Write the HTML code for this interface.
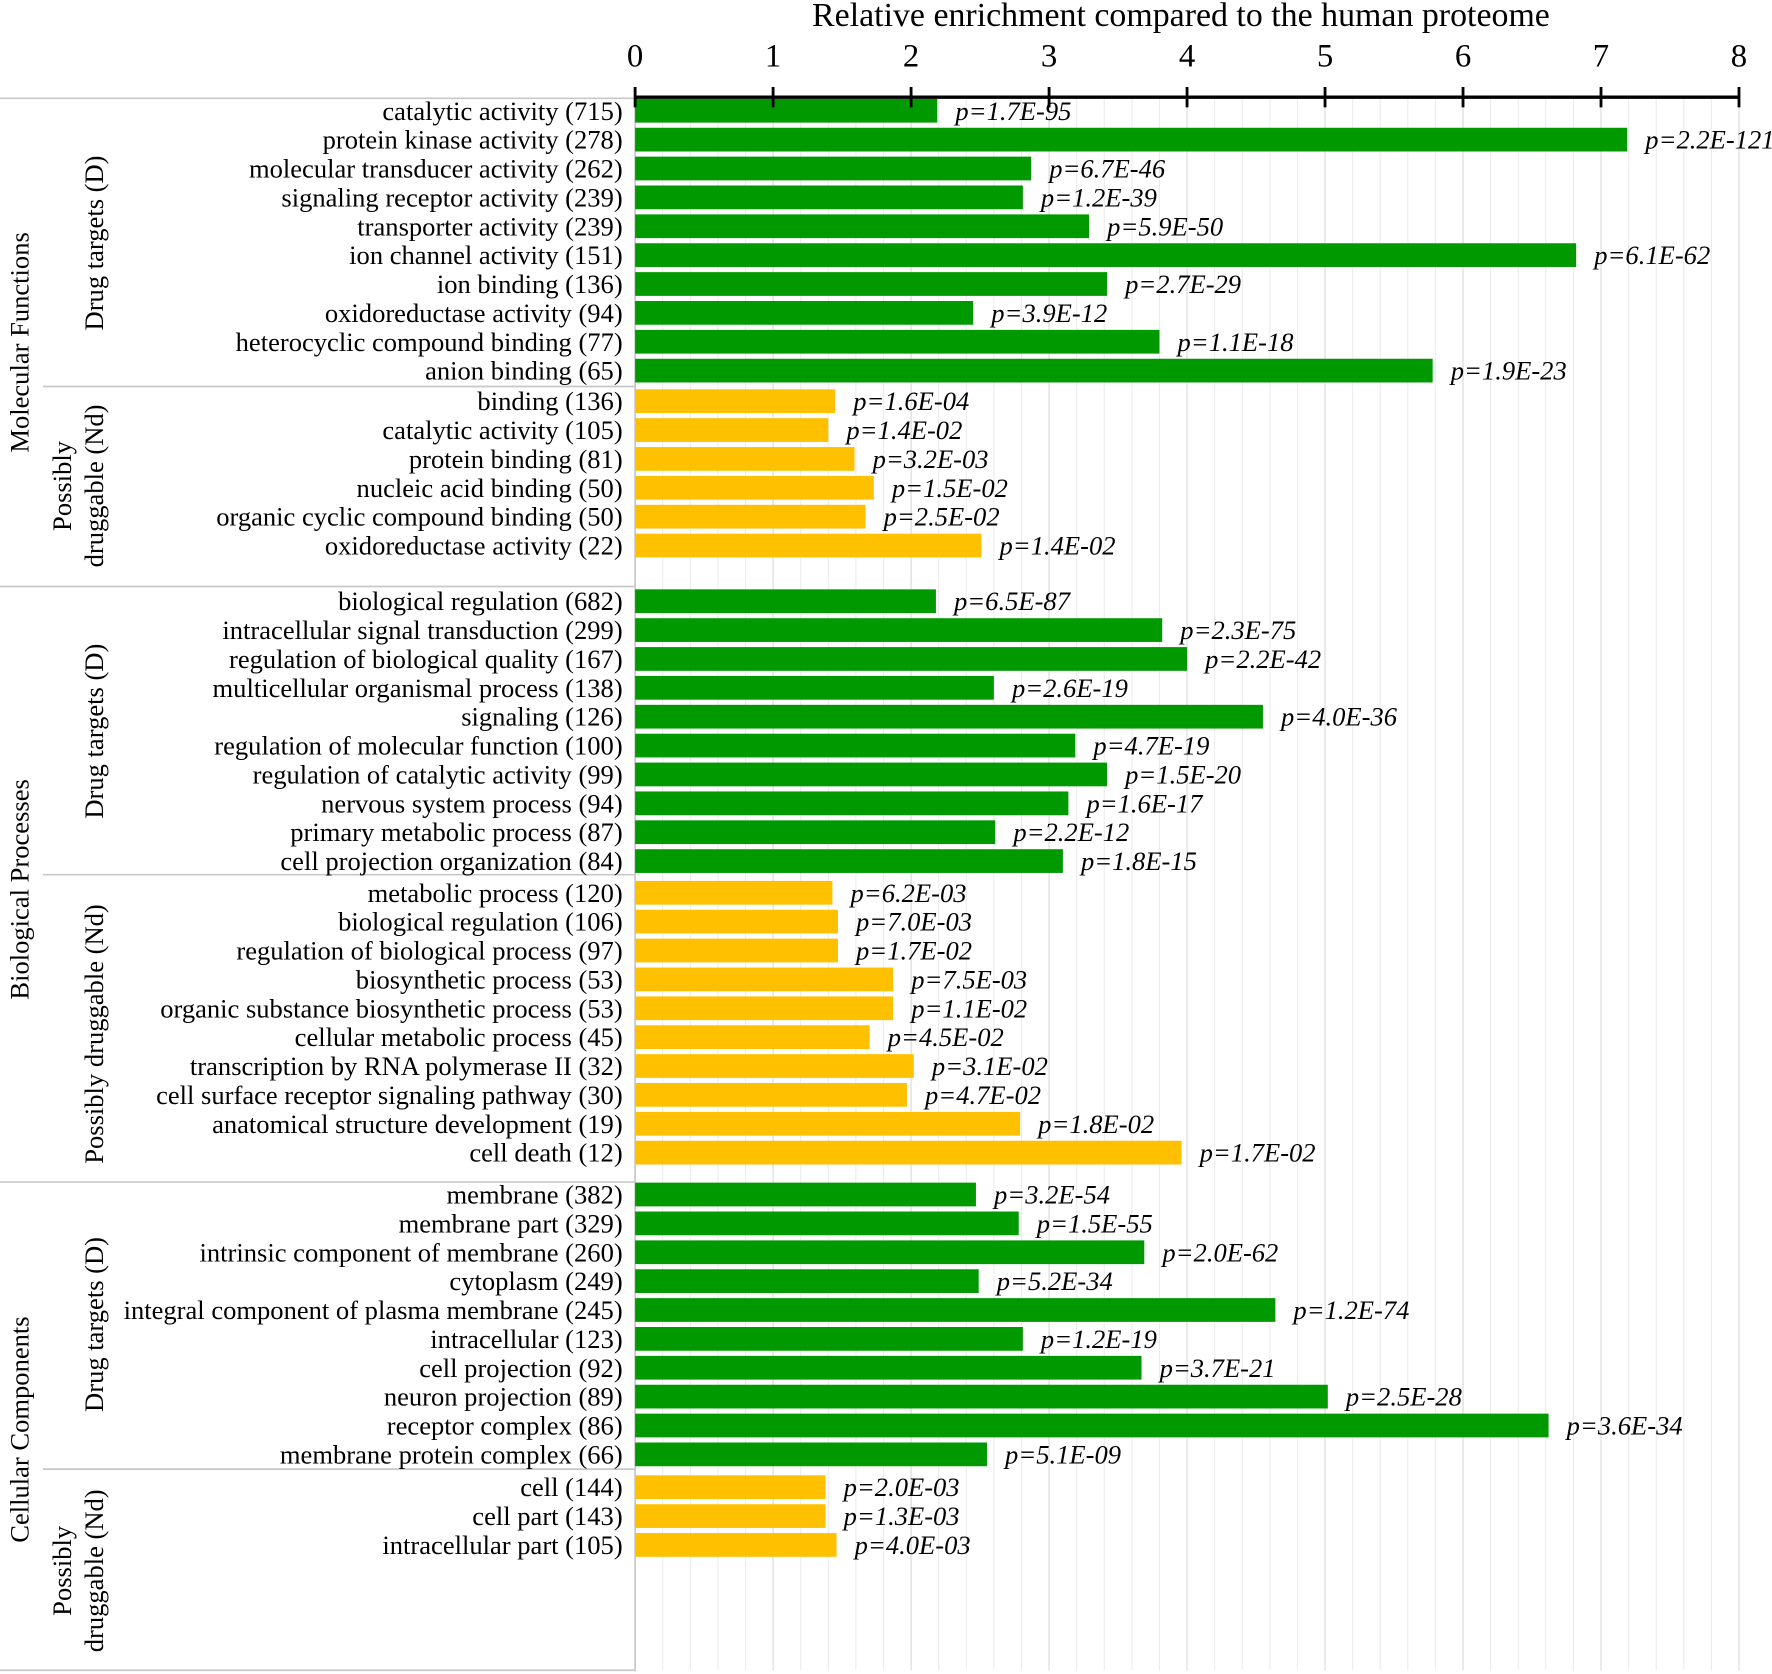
<!DOCTYPE html>
<html><head><meta charset="utf-8"><style>
html,body{margin:0;padding:0;background:#fff}
svg{display:block;font-family:"Liberation Serif",serif}
</style></head><body>
<svg id="chart" width="1772" height="1674" viewBox="0 0 1568 1481.3" xmlns="http://www.w3.org/2000/svg">
<g id="grid"></g><g id="frame"></g><g id="bars"></g><g id="axis"></g><g id="labels"></g>
</svg>
<script>
const mfD = ["catalytic activity (715)","protein kinase activity (278)","molecular transducer activity (262)","signaling receptor activity (239)","transporter activity (239)","ion channel activity (151)","ion binding (136)","oxidoreductase activity (94)","heterocyclic compound binding (77)","anion binding (65)"];
const mfDv = [2.19,7.19,2.87,2.81,3.29,6.82,3.42,2.45,3.80,5.78];
const mfDp = ["1.7E-95","2.2E-121","6.7E-46","1.2E-39","5.9E-50","6.1E-62","2.7E-29","3.9E-12","1.1E-18","1.9E-23"];
const mfN = ["binding (136)","catalytic activity (105)","protein binding (81)","nucleic acid binding (50)","organic cyclic compound binding (50)","oxidoreductase activity (22)"];
const mfNv = [1.45,1.40,1.59,1.73,1.67,2.51];
const mfNp = ["1.6E-04","1.4E-02","3.2E-03","1.5E-02","2.5E-02","1.4E-02"];
const bpD = ["biological regulation (682)","intracellular signal transduction (299)","regulation of biological quality (167)","multicellular organismal process (138)","signaling (126)","regulation of molecular function (100)","regulation of catalytic activity (99)","nervous system process (94)","primary metabolic process (87)","cell projection organization (84)"];
const bpDv = [2.18,3.82,4.00,2.60,4.55,3.19,3.42,3.14,2.61,3.10];
const bpDp = ["6.5E-87","2.3E-75","2.2E-42","2.6E-19","4.0E-36","4.7E-19","1.5E-20","1.6E-17","2.2E-12","1.8E-15"];
const bpN = ["metabolic process (120)","biological regulation (106)","regulation of biological process (97)","biosynthetic process (53)","organic substance biosynthetic process (53)","cellular metabolic process (45)","transcription by RNA polymerase II (32)","cell surface receptor signaling pathway (30)","anatomical structure development (19)","cell death (12)"];
const bpNv = [1.43,1.47,1.47,1.87,1.87,1.70,2.02,1.97,2.79,3.96];
const bpNp = ["6.2E-03","7.0E-03","1.7E-02","7.5E-03","1.1E-02","4.5E-02","3.1E-02","4.7E-02","1.8E-02","1.7E-02"];
const ccD = ["membrane (382)","membrane part (329)","intrinsic component of membrane (260)","cytoplasm (249)","integral component of plasma membrane (245)","intracellular (123)","cell projection (92)","neuron projection (89)","receptor complex (86)","membrane protein complex (66)"];
const ccDv = [2.47,2.78,3.69,2.49,4.64,2.81,3.67,5.02,6.62,2.55];
const ccDp = ["3.2E-54","1.5E-55","2.0E-62","5.2E-34","1.2E-74","1.2E-19","3.7E-21","2.5E-28","3.6E-34","5.1E-09"];
const ccN = ["cell (144)","cell part (143)","intracellular part (105)"];
const ccNv = [1.38,1.38,1.46];
const ccNp = ["2.0E-03","1.3E-03","4.0E-03"];
const ticks = [0,1,2,3,4,5,6,7,8];

const NS="http://www.w3.org/2000/svg";
const X0=562, PX=122.1;
const xs=v=>X0+v*PX;
function mk(tag,attrs,parent){const e=document.createElementNS(NS,tag);for(const k in attrs)e.setAttribute(k,attrs[k]);document.getElementById(parent).appendChild(e);return e;}
const groups=[
 {names:mfD,vals:mfDv,ps:mfDp,y0:98,color:"#009900"},
 {names:mfN,vals:mfNv,ps:mfNp,y0:355,color:"#ffc000"},
 {names:bpD,vals:bpDv,ps:bpDp,y0:532,color:"#009900"},
 {names:bpN,vals:bpNv,ps:bpNp,y0:790,color:"#ffc000"},
 {names:ccD,vals:ccDv,ps:ccDp,y0:1057,color:"#009900"},
 {names:ccN,vals:ccNv,ps:ccNp,y0:1316,color:"#ffc000"}];
const PITCH=25.55;
for(let i=1;i<=40;i++){const l=mk('line',{x1:xs(i*0.2),x2:xs(i*0.2),y1:86,y2:1478,stroke:i%5==0?'#d9d9d9':'#ececec','stroke-width':1},'grid');

}
groups.forEach(g=>{g.vals.forEach((v,i)=>{const cy=g.y0+i*PITCH;
 const r=mk('rect',{x:X0,y:cy-10.5,width:xs(v)-X0,height:21,fill:g.color},'bars');
 
 
 const t=mk('text',{x:xs(v)+16,y:cy+8,'font-size':23.5,'font-style':'italic',fill:'#000'},'labels');t.textContent='p='+g.ps[i];
 
 
 const n=mk('text',{x:551,y:cy+8,'font-size':23.5,'text-anchor':'end',fill:'#000'},'labels');n.textContent=g.names[i];
 
 
});});
mk('line',{x1:X0,x2:xs(8),y1:86,y2:86,stroke:'#000','stroke-width':3},'axis');
ticks.forEach(t=>{mk('line',{x1:xs(t),x2:xs(t),y1:77,y2:95,stroke:'#000','stroke-width':2.5},'axis');
 const tl=mk('text',{x:xs(t),y:59,'font-size':29,'text-anchor':'middle'},'axis');tl.textContent=t;
 
 });
const tt=mk('text',{x:1045,y:23,'font-size':30,'text-anchor':'middle'},'axis');tt.textContent='Relative enrichment compared to the human proteome';


[[0,87],[38,342],[0,519],[38,774],[0,1046],[38,1300],[0,1478]].forEach(([x,y])=>{mk('line',{x1:x,x2:X0,y1:y,y2:y,stroke:'#c8c8c8','stroke-width':1.5},'frame');});
mk('line',{x1:X0,x2:X0,y1:86,y2:1479,stroke:'#c8c8c8','stroke-width':1.5},'frame');
function vlab(x,y,txt,name){const t=mk('text',{x:0,y:0,'font-size':23.5,'text-anchor':'middle',transform:`translate(${x},${y}) rotate(-90)`},'labels');t.textContent=txt;
 
 }
vlab(25,303,'Molecular Functions','section-label');
vlab(91,215,'Drug targets (D)','group-label');
vlab(63,430,'Possibly','group-label');vlab(91,430,'druggable (Nd)','group-label');
vlab(25,787,'Biological Processes','section-label');
vlab(91,647,'Drug targets (D)','group-label');
vlab(91,915,'Possibly druggable (Nd)','group-label');
vlab(25,1265,'Cellular Components','section-label');
vlab(91,1172,'Drug targets (D)','group-label');
vlab(63,1390,'Possibly','group-label');vlab(91,1390,'druggable (Nd)','group-label');
</script>
</body></html>
